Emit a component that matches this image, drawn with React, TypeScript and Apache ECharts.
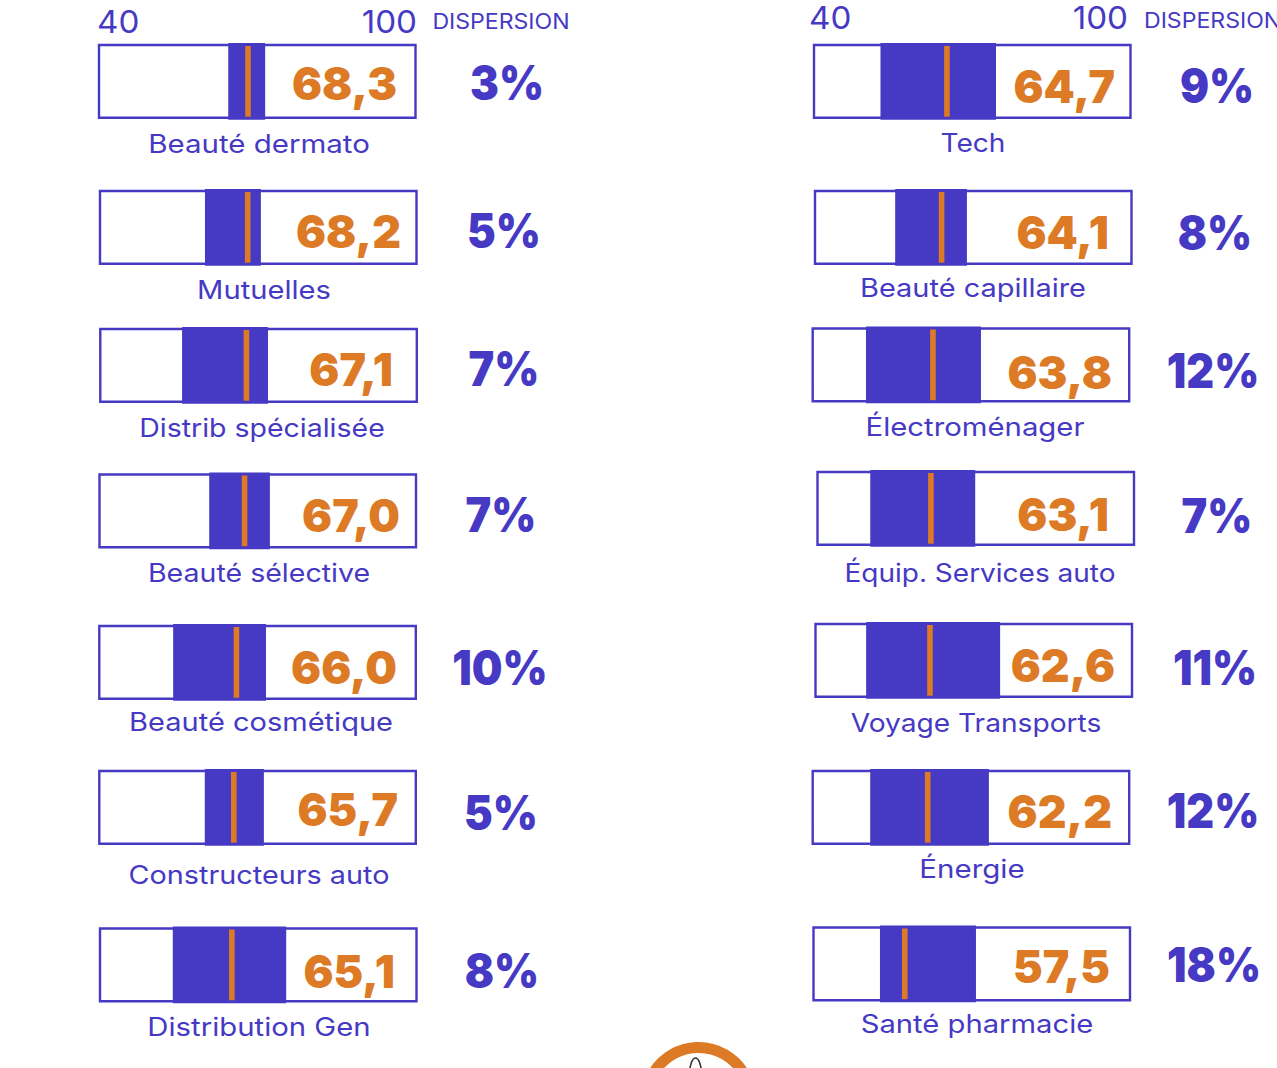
import React, { useEffect, useRef } from "react";
import * as echarts from "echarts";

const sectors = ["Beauté dermato","Mutuelles","Distrib spécialisée","Beauté sélective","Beauté cosmétique","Constructeurs auto","Distribution Gen","Tech","Beauté capillaire","Électroménager","Équip. Services auto","Voyage Transports","Énergie","Santé pharmacie"];
const scores = [68.3,68.2,67.1,67.0,66.0,65.7,65.1,64.7,64.1,63.8,63.1,62.6,62.2,57.5];
const dispersion = [3,5,7,7,10,5,8,9,8,12,7,11,12,18];
const bandLow = [64.5,59.9,55.5,60.8,54,60,53.8,52.6,55.2,50.1,50,49.6,50.9,52.6];
const bandHigh = [71.5,70.5,71.8,72.3,71.6,71.2,75.3,74.5,68.8,71.9,69.9,75,73.4,70.8];
const markers = [68.25,68,67.7,67.5,66,65.5,65,65.2,64,62.8,61.5,61.7,61.8,57.3];
const axisTicks = [40,100];
const headerTitle = "DISPERSION";

// layout, in page pixels
const frameX = [99,100,100.3,99.5,99.3,99.3,100,814,815,812.7,817.5,815.5,812.7,813.5];
const frameY = [45,191,329,474.5,626,771,928.5,45,191,328.5,472,624,771,927.5];
const frameW = 316.5, frameH = 72.7;
const scoreRight = [397,401,393,400,397,398,395,1115,1109,1112,1109,1115,1112,1110];
const scoreY = [83,231,369,515,667,809,971,86,232,372,514,665,811,966];
const pctX = [507,504,504,501,500,501,502,1217,1215,1213,1217,1215,1213,1214];
const pctY = [83,231,369,515,668,813,971,86,233,371,516,668,811,965];
const nameX = [259,264,262,259,261,259,259,973,973,975,980,976,972,977];
const nameY = [144,290,428,573,722,875,1027,142,288,427,572,723,869,1024];
const nameScale = [1.156,1.144,1.117,1.12,1.139,1.13,1.15,1.1,1.135,1.15,1.098,1.104,1.157,1.145];
const tickMinX = [97,809];
const tickMaxX = [417,1128];
const tickY = [22,18];
const headerTextX = [501,1144];
const headerTextY = [21,20];

const PURPLE = "#4639C4";
const ORANGE = "#DC7A26";
const FONT = "Inter";

const fmt = (v: number) => v.toFixed(1).replace(".", ",");

function text(str: string, x: number, y: number, size: number, weight: number, fill: string, align = "center", scaleX = 1) {
  return { type: "text", silent: true, z: 10, x, y, scaleX, style: { text: str, x: 0, y: 0, fill, textAlign: align, textVerticalAlign: "middle", fontFamily: FONT, fontSize: size, fontWeight: weight } };
}

function buildOption() {
  const grid: any[] = [], xAxis: any[] = [], yAxis: any[] = [], series: any[] = [], graphic: any[] = [];
  sectors.forEach((name, i) => {
    grid.push({ left: frameX[i], top: frameY[i], width: frameW, height: frameH, show: false });
    xAxis.push({
      gridIndex: i, type: "value", min: axisTicks[0], max: axisTicks[1], position: "top",
      axisLine: { show: false }, axisTick: { show: false }, splitLine: { show: false }, axisLabel: { show: false },
    });
    yAxis.push({ gridIndex: i, type: "category", data: [name], show: false });
    series.push({
      type: "custom", name, xAxisIndex: i, yAxisIndex: i, clip: false,
      encode: { x: [0, 1, 2], y: 3 },
      data: [[bandLow[i], bandHigh[i], markers[i], 0]],
      renderItem: (params: any, api: any) => {
        const a = api.coord([api.value(0), 0]);
        const b = api.coord([api.value(1), 0]);
        const m = api.coord([api.value(2), 0]);
        const cs = params.coordSys;
        const h = cs.height;
        return {
          type: "group",
          children: [
            { type: "rect", shape: { x: cs.x, y: cs.y, width: cs.width, height: h }, style: { fill: "none", stroke: PURPLE, lineWidth: 2.4 } },
            { type: "rect", shape: { x: a[0], y: a[1] - h / 2 - 2, width: b[0] - a[0], height: h + 4 }, style: { fill: PURPLE } },
            { type: "rect", shape: { x: m[0] - 2.8, y: a[1] - h / 2 + 1, width: 5.6, height: h - 2 }, style: { fill: ORANGE } },
          ],
        };
      },
    });
    graphic.push(text(fmt(scores[i]), scoreRight[i], scoreY[i], 46, 900, ORANGE, "right", 0.97));
    graphic.push(text(dispersion[i] + "%", pctX[i], pctY[i], 48, 900, PURPLE, "center", 0.9));
    graphic.push(text(name, nameX[i], nameY[i], 25.5, 400, PURPLE, "center", nameScale[i]));
  });
  tickMinX.forEach((_, k) => {
    graphic.push(text(String(axisTicks[0]), tickMinX[k], tickY[k], 31, 400, PURPLE, "left", 1.07));
    graphic.push(text(String(axisTicks[1]), tickMaxX[k], tickY[k], 31, 400, PURPLE, "right", 1.07));
    graphic.push(text(headerTitle, headerTextX[k], headerTextY[k], 21, 400, PURPLE, k === 0 ? "center" : "left", 1.1));
  });
  graphic.push({ type: "circle", silent: true, shape: { cx: 698.5, cy: 1100, r: 52.5 }, style: { fill: "#fff", stroke: ORANGE, lineWidth: 11 } });
  graphic.push({ type: "ellipse", silent: true, shape: { cx: 695.5, cy: 1075, rx: 6, ry: 17 }, style: { fill: "#fff", stroke: "#333", lineWidth: 1.6 } });
  return { animation: false, backgroundColor: "#fff", grid, xAxis, yAxis, series, graphic };
}

export default function App() {
  const ref = useRef<HTMLDivElement>(null);
  useEffect(() => {
    const chart = echarts.init(ref.current!, undefined, { renderer: "svg" });
    chart.setOption(buildOption() as any);
    return () => chart.dispose();
  }, []);
  return <div ref={ref} style={{ position: "absolute", left: 0, top: 0, width: 1277, height: 1068 }} />;
}
